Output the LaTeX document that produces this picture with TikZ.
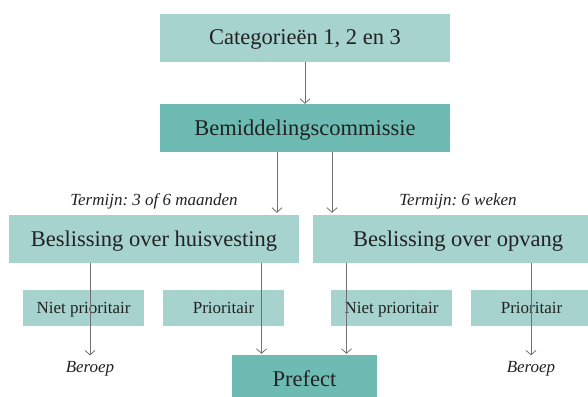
\documentclass[tikz,border=0pt]{standalone}
\usepackage{fontspec}
\setmainfont{Liberation Serif}
\usetikzlibrary{positioning}
\usetikzlibrary{arrows.meta}
\definecolor{tealLight}{HTML}{A7D3CF}
\definecolor{tealDark}{HTML}{6DBBB3}
\definecolor{lineGrey}{HTML}{707070}
\definecolor{textDark}{HTML}{222222}
\frenchspacing
\tikzset{
	flowbox/.style = {
		rectangle,
		inner sep=0pt,
		text=textDark,
		text depth=0pt,
		align=center
	},
	box_big/.style = {
		flowbox,
		fill=tealLight,
		minimum width=290pt,
		minimum height=48pt,
		text height=14pt,
		font=\fontsize{22.5}{26}\selectfont
	},
	box_dark/.style = {
		box_big,
		fill=tealDark
	},
	box_end/.style = {
		box_dark,
		minimum width=145pt
	},
	box_small/.style = {
		flowbox,
		fill=tealLight,
		minimum width=121pt,
		minimum height=36pt,
		text height=10.5pt,
		font=\fontsize{17}{20}\selectfont
	},
	note/.style = {
		inner sep=0pt,
		text=textDark,
		font=\itshape\fontsize{17}{20}\selectfont
	},
	flow/.style = {
		->,
		draw=lineGrey,
		line width=0.8pt
	},
}

\begin{document}
\begin{tikzpicture}[x=1pt,y=-1pt,>={Straight Barb[length=4.5pt,width=10pt]}]
\useasboundingbox (0,0) rectangle (588,396);
\clip (0,0) rectangle (588,396);
% boxes
\node [box_big] (cat) at (305,38) {Categorieën 1, 2 en 3};
\node [box_dark] (bem) at (305,128) {Bemiddelingscommissie};
\node [box_big] (hv) at (154,239) {Beslissing over huisvesting};
\node [box_big] (op) at (458,239) {Beslissing over opvang};
\node [box_small] (np1) at (83.5,308) {Niet prioritair};
\node [box_small] (pr1) at (223.5,308) {Prioritair};
\node [box_small] (np2) at (391.5,308) {Niet prioritair};
\node [box_small] (pr2) at (531.5,308) {Prioritair};
\node [box_end] (pref) at (304.5,379) {Prefect};
% labels
\node [note, above=5pt of hv] (termhv) {Termijn: 3 of 6 maanden};
\node [note, above=5pt of op] (termop) {Termijn: 6 weken};
\node [note] (ber1) at (90,369) {Beroep};
\node [note] (ber2) at (531,369) {Beroep};
% arrows
\draw [flow] (cat.south) -- (bem.north);
\draw [flow] ([xshift=-28pt]bem.south) -- ([xshift=-28pt,yshift=2pt]bem.south |- hv.north);
\draw [flow] ([xshift=27pt]bem.south) -- ([xshift=27pt,yshift=2pt]bem.south |- op.north);
\draw [flow] (ber1.north |- hv.south) -- ([yshift=6pt]ber1.north);
\draw [flow] ([xshift=-43pt]pref.north |- hv.south) -- ([xshift=-43pt,yshift=1pt]pref.north);
\draw [flow] ([xshift=42pt]pref.north |- op.south) -- ([xshift=42pt,yshift=1pt]pref.north);
\draw [flow] (ber2.north |- op.south) -- ([yshift=6pt]ber2.north);
\end{tikzpicture}
\end{document}
